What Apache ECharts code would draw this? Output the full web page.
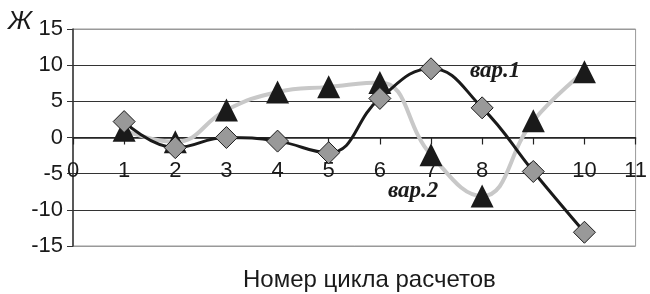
<!DOCTYPE html>
<html>
<head>
<meta charset="utf-8">
<script src="https://cdn.jsdelivr.net/npm/echarts@6/dist/echarts.min.js"></script>
<style>
  html, body { margin: 0; padding: 0; background: #fff; }
  #chart { width: 650px; height: 294px; }
</style>
</head>
<body>
<div id="chart"></div>
<script>
var cycles = [1, 2, 3, 4, 5, 6, 7, 8, 9, 10];
var var1 = [2.2, -1.4, 0, -0.5, -2.1, 5.4, 9.5, 4.1, -4.7, -13.1];
var var2 = [1.0, -0.6, 3.8, 6.3, 7.0, 7.6, -2.4, -8.1, 2.3, 9.1];
var seriesNames = ['вар.1', 'вар.2'];
var axisTitle = 'Номер цикла расчетов';

var chart = echarts.init(document.getElementById('chart'));

function pairs(vals) {
  return cycles.map(function (c, i) { return [c, vals[i]]; });
}

var font = 'Liberation Sans, Arial, sans-serif';
var serif = 'Liberation Serif, serif';
// grid is 217px tall, zero sits half way: move the x axis up onto it
var gridH = 294 - 29 - 48;

var option = {
  animation: false,
  grid: {
    left: 73, right: 14, top: 29, bottom: 48,
    show: true, borderColor: '#999', borderWidth: 1
  },
  xAxis: {
    type: 'value',
    min: 0, max: 11, interval: 1,
    offset: -gridH / 2,
    axisLine: { onZero: false, lineStyle: { color: '#222', width: 1.5 } },
    axisTick: { length: 7, lineStyle: { color: '#222', width: 1.2 } },
    axisLabel: { color: '#1a1a1a', fontSize: 22, fontFamily: font, margin: 22, showMaxLabel: true, showMinLabel: true },
    splitLine: { show: false }
  },
  yAxis: {
    type: 'value',
    min: -15, max: 15, interval: 5,
    axisLine: { show: true, onZero: false, lineStyle: { color: '#333', width: 1.5 } },
    axisTick: { show: true, length: 6, lineStyle: { color: '#333' } },
    axisLabel: { color: '#1a1a1a', fontSize: 22, fontFamily: font, margin: 10 },
    splitLine: {
      lineStyle: { color: ['#999', '#333', '#333', '#333', '#333', '#333', '#999'], width: 1.2 }
    }
  },
  graphic: [
    { type: 'text', left: 8, top: 9, style: { text: 'Ж', fontSize: 26, fontStyle: 'italic', fontFamily: font, fill: '#1a1a1a' } },
    { type: 'text', left: 243, top: 268, style: { text: axisTitle, fontSize: 24, fontFamily: font, fill: '#1a1a1a' } },
    { type: 'text', left: 470, top: 60, style: { text: seriesNames[0], fontSize: 23, fontStyle: 'italic', fontWeight: 'bold', fontFamily: serif, fill: '#1a1a1a' } },
    { type: 'text', left: 388, top: 180, style: { text: seriesNames[1], fontSize: 23, fontStyle: 'italic', fontWeight: 'bold', fontFamily: serif, fill: '#1a1a1a' } }
  ],
  series: [{
    name: seriesNames[0],
    type: 'line',
    smooth: 0.45,
    data: pairs(var1),
    lineStyle: { color: '#1a1a1a', width: 3 },
    symbol: 'diamond',
    symbolSize: [22, 22],
    itemStyle: { color: '#999', borderColor: '#1a1a1a', borderWidth: 1 },
    z: 3
  }, {
    name: seriesNames[1],
    type: 'line',
    smooth: 0.45,
    data: pairs(var2),
    lineStyle: { color: '#c8c8c8', width: 4 },
    symbol: 'triangle',
    symbolSize: [23, 23],
    itemStyle: { color: '#1a1a1a', borderWidth: 0 },
    z: 2
  }]
};
chart.setOption(option);
</script>
</body>
</html>
